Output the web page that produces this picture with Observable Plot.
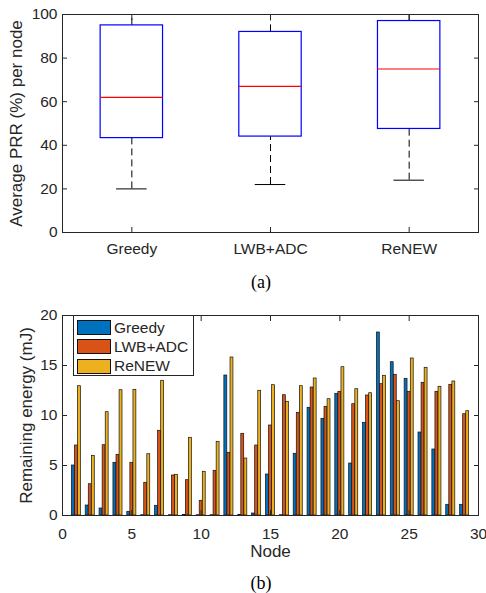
<!DOCTYPE html>
<html>
<head>
<meta charset="utf-8">
<script src="https://cdn.jsdelivr.net/npm/d3@7"></script>
<script src="https://cdn.jsdelivr.net/npm/@observablehq/plot@0.6"></script>
<style>
  html, body { margin: 0; padding: 0; background: #fff; }
  #page { position: relative; width: 486px; height: 593px; overflow: hidden; background: #fff; }
  .chart { position: absolute; left: 0; }
  .cap { position: absolute; font-family: "Liberation Serif", "Times New Roman", serif; font-size: 18px; color: #000; transform: translate(-50%, -50%); }
  #legend { position: absolute; left: 73px; top: 315px; width: 121px; height: 61px; border: 1px solid #262626; background: #fff; box-sizing: border-box; font-family: "Liberation Sans", Arial, sans-serif; font-size: 15.5px; color: #262626; }
  .lg { position: absolute; left: 3px; height: 15px; display: flex; align-items: center; }
  .sw { width: 34px; height: 15px; border: 1px solid #111; box-sizing: border-box; margin-right: 3px; }
</style>
</head>
<body>
<div id="page"></div>
<script>
// ---- Chart (a) data: box plot of average PRR per node ----
const cats = ["Greedy", "LWB+ADC", "ReNEW"];
const whiskerHigh = [100, 100, 100];
const q3 = [95, 92, 97];
const median = [62, 67, 75];
const q1 = [43.3, 44, 47.5];
const whiskerLow = [20, 22, 24];

// ---- Chart (b) data: remaining energy per node ----
const nodes = [1,2,3,4,5,6,7,8,9,10,11,12,13,14,15,16,17,18,19,20,21,22,23,24,25,26,27,28,29];
const greedy = [5.0,1.0,0.7,5.27,0.37,0.03,0.97,0.03,0.05,0.03,0.03,14.0,0.05,0.2,4.1,0.03,6.17,10.77,9.67,12.17,5.2,9.27,18.3,15.33,13.67,8.3,6.6,1.07,1.07];
const lwbadc = [7.0,3.13,7.03,6.07,5.27,3.27,8.47,4.0,3.53,1.47,4.47,6.27,8.17,7.0,9.0,12.03,10.27,12.8,10.87,12.37,11.13,12.0,13.13,14.07,12.37,13.27,12.37,13.07,10.13];
const renew = [12.93,5.97,10.33,12.53,12.57,6.13,13.47,4.07,7.77,4.37,7.37,15.8,5.7,12.47,13.03,11.37,12.93,13.7,11.63,14.83,12.63,12.23,13.97,11.43,15.7,14.77,12.87,13.4,10.43];
const seriesNames = ["Greedy", "LWB+ADC", "ReNEW"];
const seriesColors = ["#0072BD", "#D95319", "#EDB120"];

const axisColor = "#262626";
const font = "'Liberation Sans', Arial, Helvetica, sans-serif";
const page = document.getElementById("page");

// ---------- Chart (a) ----------
const boxes = cats.map((c, i) => ({
  pos: i + 1, name: c, hi: whiskerHigh[i], q3: q3[i], med: median[i], q1: q1[i], lo: whiskerLow[i]
}));
const bw = 0.225, cw = 0.11;

const chartA = Plot.plot({
  width: 486, height: 262,
  marginTop: 14, marginBottom: 30, marginLeft: 62, marginRight: 8,
  style: { fontFamily: font, fontSize: "15.5px", color: axisColor, background: "transparent", overflow: "visible" },
  x: { domain: [0.5, 3.5] },
  y: { domain: [0, 100] },
  marks: [
    Plot.ruleX(boxes, { x: "pos", y1: "q3", y2: "hi", stroke: "#000", strokeWidth: 1, strokeDasharray: "7,4" }),
    Plot.ruleX(boxes, { x: "pos", y1: "lo", y2: "q1", stroke: "#000", strokeWidth: 1, strokeDasharray: "7,4" }),
    Plot.ruleY(boxes, { y: "hi", x1: d => d.pos - cw, x2: d => d.pos + cw, stroke: "#000", strokeWidth: 1 }),
    Plot.ruleY(boxes, { y: "lo", x1: d => d.pos - cw, x2: d => d.pos + cw, stroke: "#000", strokeWidth: 1 }),
    Plot.rect(boxes, { x1: d => d.pos - bw, x2: d => d.pos + bw, y1: "q1", y2: "q3", fill: "none", stroke: "#0000FF", strokeWidth: 1.2 }),
    Plot.ruleY(boxes, { y: "med", x1: d => d.pos - bw, x2: d => d.pos + bw, stroke: "#FF0000", strokeWidth: 1.2 }),
    Plot.axisX({ ticks: [1, 2, 3], tickFormat: d => cats[d - 1], tickSize: -5, tickPadding: 15, label: null, stroke: axisColor, color: axisColor }),
    Plot.axisX({ anchor: "top", ticks: [1, 2, 3], tickFormat: () => "", tickSize: -5, label: null, stroke: axisColor }),
    Plot.axisY({ ticks: [0, 20, 40, 60, 80, 100], tickSize: -5, tickPadding: 10, label: null, stroke: axisColor, color: axisColor }),
    Plot.axisY({ anchor: "right", ticks: [0, 20, 40, 60, 80, 100], tickFormat: () => "", tickSize: -5, label: null, stroke: axisColor }),
    Plot.frame({ stroke: axisColor, strokeWidth: 1 }),
    Plot.text(["Average PRR (%) per node"], { text: d => d, frameAnchor: "left", rotate: -90, dx: -46, textAnchor: "middle", lineAnchor: "middle", fontSize: 17, fill: axisColor })
  ]
});
chartA.classList.add("chart");
chartA.style.top = "0px";
page.appendChild(chartA);

// ---------- Chart (b) ----------
const series = [greedy, lwbadc, renew];
const rows = [];
const off = 0.222, w = 0.21;
series.forEach((vals, s) => {
  nodes.forEach((n, i) => {
    rows.push({ node: n, series: seriesNames[s], si: s, value: vals[i] });
  });
});

const chartB = Plot.plot({
  width: 486, height: 270,
  marginTop: 15, marginBottom: 55, marginLeft: 62, marginRight: 8,
  style: { fontFamily: font, fontSize: "15.5px", color: axisColor, background: "transparent", overflow: "visible" },
  x: { domain: [0, 30] },
  y: { domain: [0, 20] },
  color: { domain: seriesNames, range: seriesColors },
  marks: [
    Plot.rectY(rows, {
      x1: d => d.node + (d.si - 1) * off - w / 2,
      x2: d => d.node + (d.si - 1) * off + w / 2,
      y1: 0, y2: "value",
      fill: "series", stroke: "#111", strokeWidth: 0.7
    }),
    Plot.axisX({ ticks: [0, 5, 10, 15, 20, 25, 30], tickSize: -5, tickPadding: 17, label: null, stroke: axisColor, color: axisColor }),
    Plot.axisX({ anchor: "top", ticks: [0, 5, 10, 15, 20, 25, 30], tickFormat: () => "", tickSize: -5, label: null, stroke: axisColor }),
    Plot.axisY({ ticks: [0, 5, 10, 15, 20], tickSize: -5, tickPadding: 10, label: null, stroke: axisColor, color: axisColor }),
    Plot.axisY({ anchor: "right", ticks: [0, 5, 10, 15, 20], tickFormat: () => "", tickSize: -5, label: null, stroke: axisColor }),
    Plot.frame({ stroke: axisColor, strokeWidth: 1 }),
    Plot.text(["Remaining energy (mJ)"], { text: d => d, frameAnchor: "left", rotate: -90, dx: -36, textAnchor: "middle", lineAnchor: "middle", fontSize: 17, fill: axisColor }),
    Plot.text(["Node"], { text: d => d, frameAnchor: "bottom", dy: 36, lineAnchor: "middle", textAnchor: "middle", fontSize: 17, fill: axisColor })
  ]
});
chartB.classList.add("chart");
chartB.style.top = "300px";
page.appendChild(chartB);

// ---------- Legend (b) ----------
const legend = document.createElement("div");
legend.id = "legend";
seriesNames.forEach((name, i) => {
  const row = document.createElement("div");
  row.className = "lg";
  row.style.top = (4 + i * 19.3) + "px";
  const sw = document.createElement("div");
  sw.className = "sw";
  sw.style.background = seriesColors[i];
  const tx = document.createElement("span");
  tx.textContent = name;
  row.appendChild(sw); row.appendChild(tx);
  legend.appendChild(row);
});
page.appendChild(legend);

// ---------- Captions ----------
[["(a)", 261, 282], ["(b)", 261, 583]].forEach(([t, x, y]) => {
  const c = document.createElement("div");
  c.className = "cap";
  c.textContent = t;
  c.style.left = x + "px";
  c.style.top = y + "px";
  page.appendChild(c);
});
</script>
</body>
</html>
